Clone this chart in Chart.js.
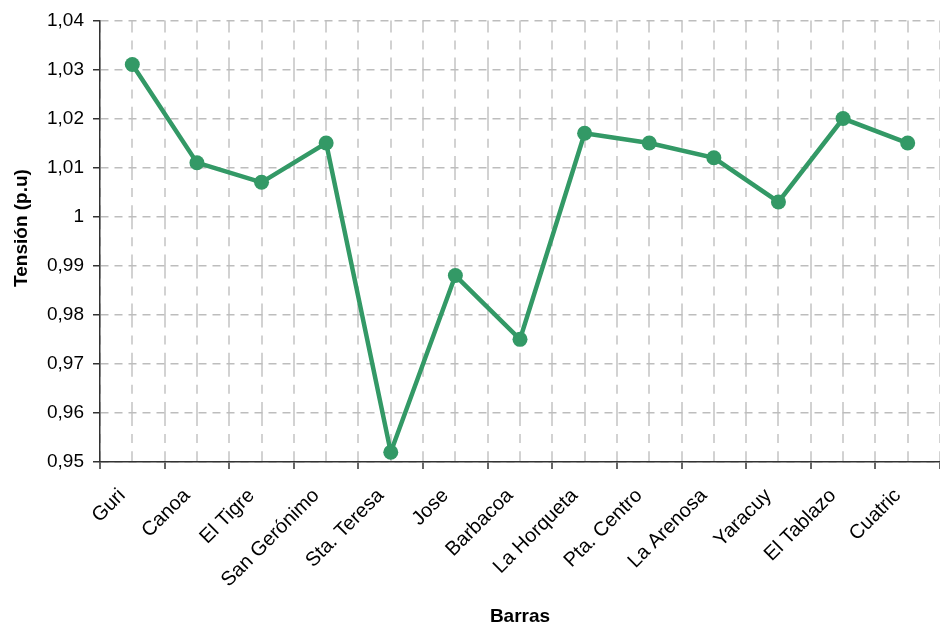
<!DOCTYPE html>
<html>
<head>
<meta charset="utf-8">
<script src="https://cdn.jsdelivr.net/npm/chart.js@4/dist/chart.umd.min.js"></script>
<style>
  html, body { margin: 0; padding: 0; background: #fff; }
  #wrap { width: 940px; height: 628px; }
</style>
</head>
<body>
<div id="wrap"><canvas id="tension-chart"></canvas></div>
<script>
// Barras del sistema y tensión en p.u.
const barras = ['Guri', 'Canoa', 'El Tigre', 'San Gerónimo', 'Sta. Teresa', 'Jose', 'Barbacoa',
  'La Horqueta', 'Pta. Centro', 'La Arenosa', 'Yaracuy', 'El Tablazo', 'Cuatric'];
const tension = [1.031, 1.011, 1.007, 1.015, 0.952, 0.988, 0.975, 1.017, 1.015, 1.012, 1.003, 1.020, 1.015];
const yMin = 0.95;
const yMax = 1.04;
const yStep = 0.01;

const FONT = 'Arial, "Liberation Sans", sans-serif';
const GREEN = '#339966';

function fmtComma(v) {
  return String(Number(v.toFixed(2))).replace('.', ',');
}

const ctx = document.getElementById('tension-chart');
new Chart(ctx, {
  type: 'line',
  data: {
    datasets: [{
      label: 'Tensión',
      data: barras.map((b, i) => ({ x: i, y: tension[i] })),
      borderColor: GREEN,
      backgroundColor: GREEN,
      borderWidth: 4.5,
      pointRadius: 7.5,
      pointHoverRadius: 7.5,
      pointBorderWidth: 0,
      tension: 0,
      fill: false
    }]
  },
  options: {
    responsive: true,
    maintainAspectRatio: false,
    animation: false,
    layout: { autoPadding: false, padding: { top: 19, right: 0, left: 0, bottom: 0 } },
    plugins: {
      legend: { display: false },
      tooltip: { enabled: false }
    },
    scales: {
      x: {
        type: 'linear',
        min: -0.5,
        max: barras.length - 0.5,
        // grid lines at every category centre and boundary
        afterBuildTicks: (scale) => {
          const t = [];
          for (let i = -1; i <= barras.length * 2 - 1; i++) t.push({ value: i / 2 });
          scale.ticks = t;
        },
        afterFit: (scale) => {
          scale.height = 166;
          scale.paddingRight = 0;
          scale.paddingLeft = 0;
        },
        grid: {
          color: '#d2d2d2',
          lineWidth: 2,
          drawTicks: true,
          tickLength: 7,
          tickColor: (c) => (Number.isInteger(c.tick.value) ? 'rgba(0,0,0,0)' : '#333'),
          tickWidth: 1.5
        },
        // long-short dash, long dash centred on each horizontal grid line
        border: { color: '#333', width: 1.5, dash: [24, 8, 9, 8.2], dashOffset: 12 },
        ticks: {
          autoSkip: false,
          maxRotation: 45,
          minRotation: 45,
          padding: 15,
          labelOffset: -10,
          color: '#000',
          font: { family: FONT, size: 20 },
          callback: (v) => (Number.isInteger(v) ? barras[v] : '')
        },
        title: {
          display: true,
          text: 'Barras',
          color: '#000',
          font: { family: FONT, size: 19, weight: 'bold' },
          padding: { top: 0, bottom: 0 }
        }
      },
      y: {
        min: yMin,
        max: yMax,
        afterFit: (scale) => { scale.width = 100; },
        ticks: {
          stepSize: yStep,
          padding: 9,
          color: '#000',
          font: { family: FONT, size: 19 },
          callback: (v) => fmtComma(v)
        },
        grid: {
          color: '#bdbdbd',
          lineWidth: 1.5,
          tickLength: 7,
          tickColor: '#333',
          tickWidth: 1.5
        },
        border: { color: '#333', width: 1.5, dash: [8, 6] },
        title: {
          display: true,
          text: '\u00a0\u00a0\u00a0\u00a0\u00a0Tensión (p.u)',
          color: '#000',
          font: { family: FONT, size: 19, weight: 'bold' },
          padding: { top: 10, bottom: 0 }
        }
      }
    }
  }
});
</script>
</body>
</html>
